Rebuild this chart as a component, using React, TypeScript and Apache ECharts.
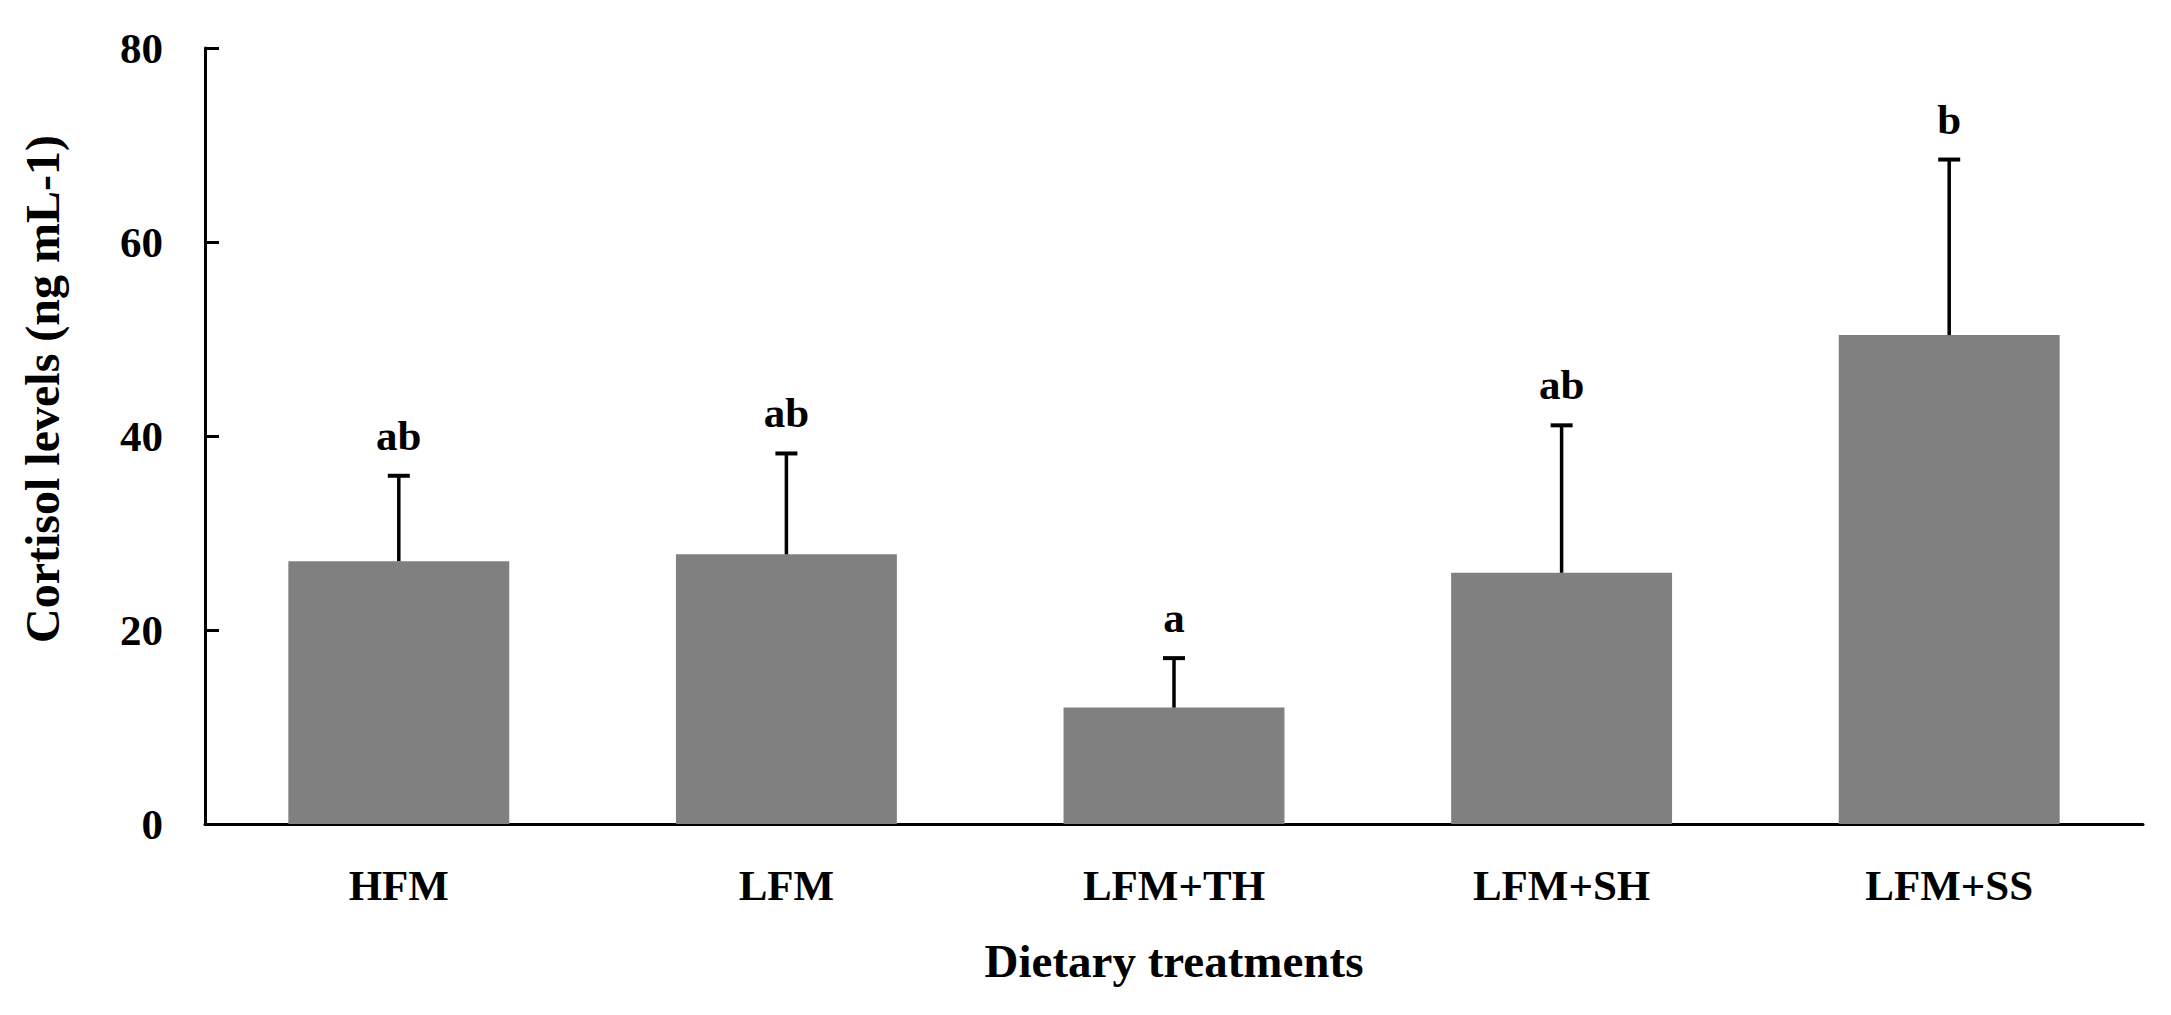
import React, { useEffect, useRef } from "react";
import * as echarts from "echarts";

const categories = ["HFM", "LFM", "LFM+TH", "LFM+SH", "LFM+SS"];
const means = [27.1, 27.8, 12.0, 25.9, 50.4];
const errors = [8.8, 10.4, 5.1, 15.2, 18.1];
const letters = ["ab", "ab", "a", "ab", "b"];
const yTicks = { min: 0, max: 80, interval: 20 };
const yTitle = "Cortisol levels (ng mL-1)";
const xTitle = "Dietary treatments";

const FONT = "'Liberation Serif', 'DejaVu Serif', serif";

export default function App() {
  const ref = useRef<HTMLDivElement>(null);
  useEffect(() => {
    if (!ref.current) return;
    const chart = echarts.init(ref.current, null, { renderer: "svg" });
    const errData = means.map((m, i) => [i, m, errors[i]]);
    chart.setOption({
      animation: false,
      backgroundColor: "#ffffff",
      grid: { left: 205, right: 28, top: 48, bottom: 191, containLabel: false },
      graphic: [
        {
          type: "text",
          x: 42,
          y: 389,
          rotation: Math.PI / 2,
          style: {
            text: yTitle,
            fontFamily: FONT,
            fontWeight: "bold",
            fontSize: 48,
            fill: "#000",
            align: "center",
            verticalAlign: "middle",
          },
        },
      ],
      xAxis: {
        type: "category",
        data: categories,
        boundaryGap: true,
        name: xTitle,
        nameLocation: "middle",
        nameGap: 113,
        nameTextStyle: { fontFamily: FONT, fontWeight: "bold", fontSize: 47, color: "#000" },
        axisLine: { lineStyle: { color: "#000", width: 3 } },
        axisTick: { inside: true, length: 14, lineStyle: { color: "#000", width: 3 } },
        axisLabel: { fontFamily: FONT, fontWeight: "bold", fontSize: 43, color: "#000", margin: 40 },
        splitLine: { show: false },
      },
      yAxis: {
        type: "value",
        min: yTicks.min,
        max: yTicks.max,
        interval: yTicks.interval,
        axisLine: { show: true, lineStyle: { color: "#000", width: 3 } },
        axisTick: { show: true, inside: true, length: 14, lineStyle: { color: "#000", width: 3 } },
        axisLabel: { fontFamily: FONT, fontWeight: "bold", fontSize: 43, color: "#000", margin: 42 },
        splitLine: { show: false },
      },
      series: [
        {
          type: "bar",
          data: means,
          barCategoryGap: "43%",
          itemStyle: { color: "#808080" },
          silent: true,
        },
        {
          type: "custom",
          data: errData,
          z: 5,
          renderItem: (params: any, api: any) => {
            const i = api.value(0);
            const m = api.value(1);
            const e = api.value(2);
            const base = api.coord([i, m]);
            const top = api.coord([i, m + e]);
            const half = 11;
            return {
              type: "group",
              children: [
                {
                  type: "line",
                  shape: { x1: base[0], y1: base[1], x2: top[0], y2: top[1] },
                  style: { stroke: "#000", lineWidth: 3.5 },
                },
                {
                  type: "line",
                  shape: { x1: top[0] - half, y1: top[1], x2: top[0] + half, y2: top[1] },
                  style: { stroke: "#000", lineWidth: 4 },
                },
                {
                  type: "text",
                  x: top[0],
                  y: top[1] - 19,
                  style: {
                    text: letters[params.dataIndex],
                    fontFamily: FONT,
                    fontWeight: "bold",
                    fontSize: 43,
                    fill: "#000",
                    align: "center",
                    verticalAlign: "bottom",
                  },
                },
              ],
            };
          },
        },
      ],
    });
    return () => chart.dispose();
  }, []);
  return (
    <div
      ref={ref}
      style={{ position: "fixed", left: 0, top: 0, width: 2171, height: 1015, background: "#fff" }}
    />
  );
}
